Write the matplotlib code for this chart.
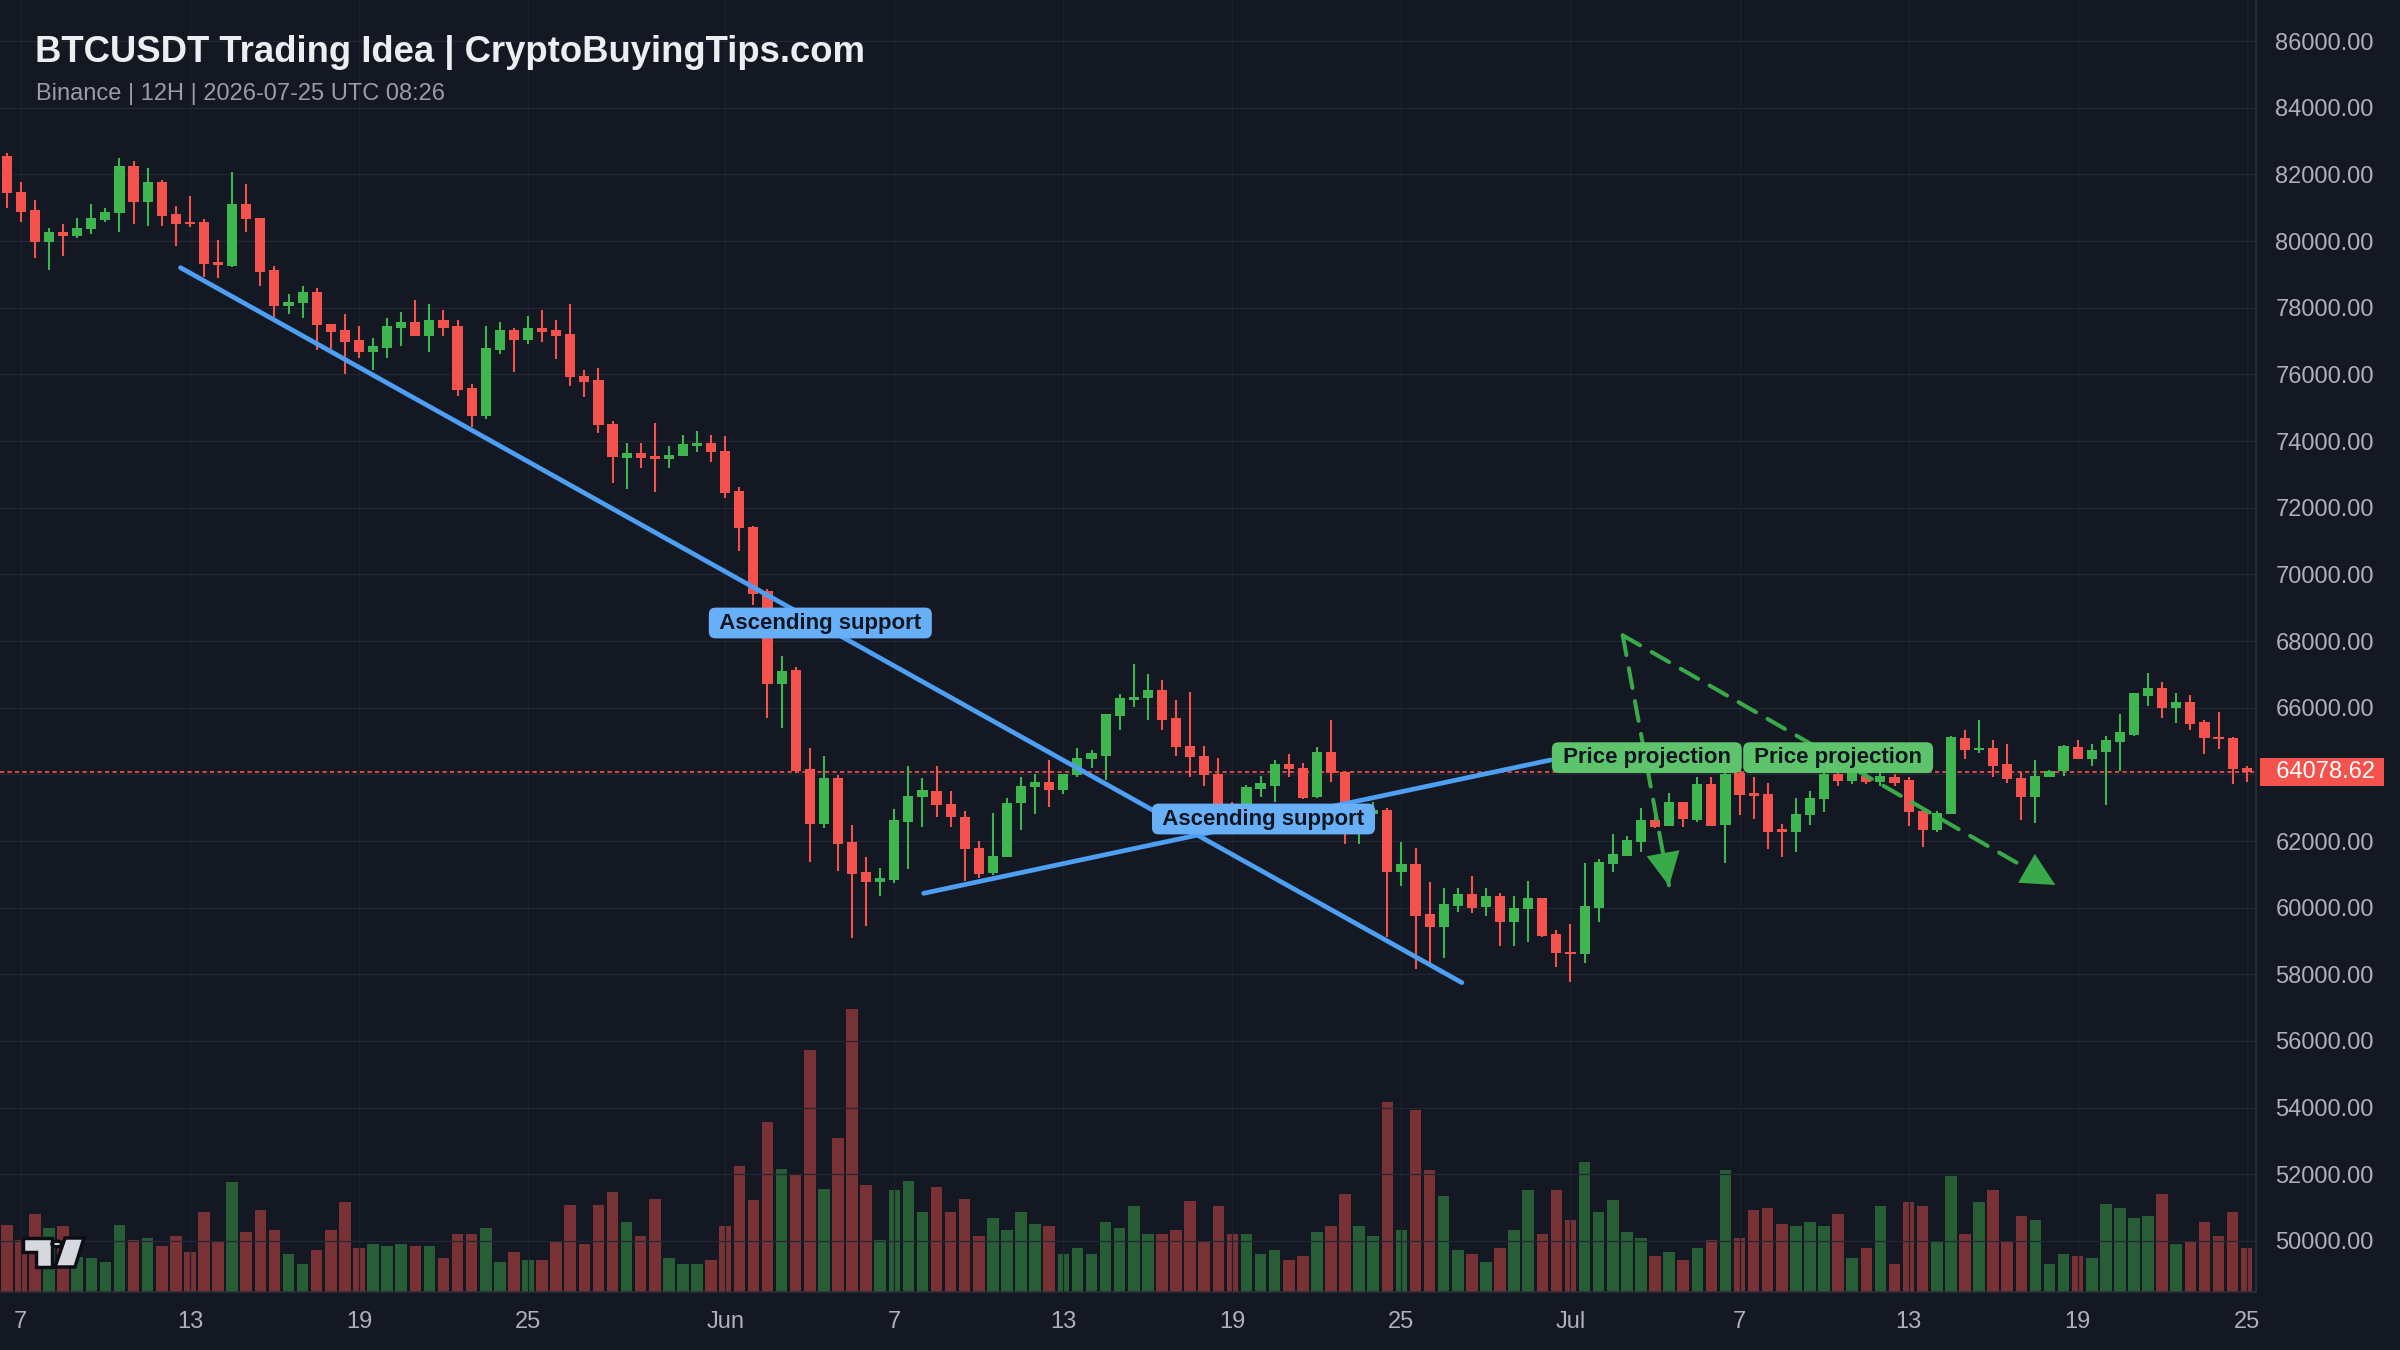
import numpy as np
import pandas as pd
import matplotlib
matplotlib.use("Agg")
import matplotlib.pyplot as plt
import matplotlib.dates as mdates
from matplotlib.patches import Polygon, Circle

plt.rcParams['font.family'] = ['Liberation Sans', 'DejaVu Sans']

BG = '#141823'
UP = '#3fb54f'
DOWN = '#f4524d'
BLUE = '#4d9ff3'
BLUE_TAG = '#67b0f7'
GREEN_LINE = '#38aa4a'
GREEN_TAG = '#5ec46b'
TICK = '#aeb1ba'

# 12H candles, BTCUSDT
times = pd.date_range('2026-05-06 12:00', periods=160, freq='12h')
opens = [82550, 81480, 80930, 79980, 80260, 80150, 80350, 80630, 80830, 82250,
         81180, 81780, 80810, 80570, 80580, 79370, 79250, 81110, 80680, 79130,
         78060, 78130, 78460, 77500, 77330, 77030, 76680, 76800, 77380, 77580,
         77150, 77630, 77460, 75600, 74750, 76730, 77330, 77030, 77380, 77330,
         77210, 75950, 75830, 74500, 73500, 73640, 73540, 73460, 73560, 73850,
         73950, 73710, 72500, 71420, 69510, 66700, 67130, 64170, 62510, 63880,
         61970, 61070, 60780, 60830, 62580, 63310, 63510, 63100, 62730, 61780,
         61030, 61510, 63130, 63610, 63760, 63530, 63980, 64450, 64550, 65750,
         66230, 66280, 66530, 65690, 64850, 64550, 64010, 63050, 62700, 63550,
         63650, 64310, 64200, 63310, 64680, 64080, 62650, 62800, 62930, 61080,
         61310, 59810, 59410, 60050, 60410, 60010, 60350, 59580, 59950, 60280,
         59210, 58660, 58610, 59980, 61310, 61550, 61980, 62630, 62450, 63160,
         62630, 63710, 62480, 64030, 63430, 63410, 62350, 62280, 62780, 63250,
         64000, 63800, 63950, 63780, 63930, 63830, 62910, 62330, 62810, 65080,
         64730, 64780, 64310, 63900, 63310, 63910, 64110, 64830, 64450, 64680,
         64980, 65180, 66360, 66580, 66000, 66180, 65580, 65130, 65100, 64180]
highs = [82650, 81780, 81230, 80400, 80500, 80700, 81110, 80980, 82480, 82410,
         82180, 81830, 81050, 81350, 80650, 80030, 82080, 81710, 80700, 79250,
         78410, 78650, 78580, 77500, 77810, 77450, 77080, 77680, 77880, 78230,
         78110, 77930, 77630, 75700, 77450, 77580, 77380, 77750, 77930, 77630,
         78110, 76130, 76180, 74610, 73950, 73950, 74540, 73850, 74190, 74310,
         74190, 74160, 72610, 71440, 69560, 67540, 67230, 64790, 64550, 63980,
         62480, 61520, 61190, 62970, 64250, 63880, 64250, 63510, 62910, 62010,
         62850, 63280, 63930, 64000, 64430, 64010, 64780, 64730, 65810, 66410,
         67310, 67010, 66830, 66230, 66480, 64850, 64480, 63180, 63680, 63950,
         64430, 64610, 64350, 64830, 65630, 64110, 62900, 63180, 62980, 61980,
         61780, 60760, 60580, 60580, 60950, 60580, 60450, 60350, 60810, 60280,
         59330, 59510, 61350, 61450, 62210, 62150, 62980, 62980, 63450, 63180,
         63910, 63910, 64300, 64200, 63930, 63750, 62510, 63280, 63510, 64150,
         64300, 64300, 64200, 64100, 64000, 63930, 62950, 62910, 65150, 65330,
         65630, 65030, 64910, 64080, 64430, 64130, 64880, 65030, 64910, 65150,
         65810, 66450, 67030, 66780, 66430, 66380, 65630, 65880, 65130, 64250]
lows = [81000, 80580, 79500, 79130, 79550, 80080, 80210, 80580, 80280, 80510,
        80460, 80460, 79860, 80410, 78930, 78900, 79210, 80280, 78660, 77730,
        77810, 77680, 76730, 76750, 76010, 76480, 76130, 76480, 76850, 77150,
        76680, 77150, 75350, 74430, 74650, 76610, 76080, 76910, 76980, 76450,
        75650, 75310, 74230, 72730, 72550, 73190, 72470, 73190, 73560, 73670,
        73380, 72300, 70690, 69090, 65690, 65400, 64050, 61380, 62400, 61090,
        59100, 59460, 60360, 60730, 61150, 62410, 62710, 62410, 60810, 60880,
        60980, 61510, 62330, 62810, 63010, 63410, 63930, 64180, 63830, 65330,
        66030, 65630, 65330, 64550, 63910, 63650, 62700, 62300, 62600, 63330,
        63180, 63910, 63250, 63280, 63780, 61910, 61910, 62500, 59130, 60650,
        58150, 58280, 58480, 59880, 59830, 59750, 58850, 58850, 58980, 59110,
        58210, 57780, 58330, 59580, 61080, 61550, 61680, 62380, 62450, 62410,
        62580, 62450, 61330, 62780, 62650, 61750, 61510, 61680, 62480, 62880,
        63650, 63700, 63700, 63650, 63650, 62450, 61810, 62280, 62810, 64450,
        64650, 63910, 63730, 62630, 62530, 63910, 63950, 64450, 64250, 63080,
        64110, 65150, 66050, 65680, 65530, 65330, 64610, 64750, 63710, 63780]
closes = [81430, 80880, 79980, 80280, 80160, 80380, 80680, 80880, 82250, 81180,
          81780, 80750, 80510, 80510, 79310, 79270, 81110, 80650, 79080, 78060,
          78180, 78460, 77470, 77280, 76980, 76680, 76850, 77460, 77580, 77150,
          77630, 77400, 75530, 74750, 76800, 77330, 77030, 77380, 77280, 77150,
          75910, 75780, 74480, 73510, 73640, 73500, 73450, 73590, 73900, 73950,
          73670, 72450, 71400, 69400, 66720, 67110, 64100, 62510, 63880, 61910,
          61000, 60780, 60880, 62620, 63350, 63530, 63080, 62710, 61750, 61010,
          61550, 63150, 63650, 63780, 63530, 64010, 64500, 64630, 65810, 66280,
          66330, 66530, 65630, 64810, 64510, 63980, 63030, 62650, 63610, 63730,
          64310, 64150, 63280, 64680, 64030, 62700, 62800, 62930, 61080, 61310,
          59750, 59410, 60100, 60410, 59980, 60350, 59580, 59980, 60280, 59150,
          58630, 58610, 60050, 61380, 61610, 62030, 62630, 62430, 63160, 62650,
          63710, 62450, 64000, 63380, 63350, 62280, 62280, 62810, 63300, 64000,
          63800, 64100, 63780, 63950, 63750, 62880, 62330, 62850, 65110, 64730,
          64780, 64250, 63850, 63310, 63950, 64110, 64850, 64450, 64730, 65030,
          65280, 66430, 66580, 65980, 66180, 65510, 65100, 65050, 64150, 64078.62]
volumes = [6730, 5170, 7770, 6370, 6570, 3500, 3400, 3000, 6730, 5170,
           5370, 4570, 5570, 3970, 7970, 5000, 10970, 5970, 8170, 6170,
           3770, 2770, 4170, 6170, 9000, 4370, 4770, 4570, 4770, 4570,
           4570, 3400, 5770, 5770, 6370, 2970, 3970, 3170, 3170, 4970,
           8730, 4770, 8730, 9970, 6970, 5570, 9330, 3370, 2770, 2770,
           3170, 6570, 12570, 9170, 16970, 12330, 11770, 24170, 10330, 15370,
           28330, 10730, 5170, 10170, 11130, 7970, 10530, 7970, 9330, 5570,
           7370, 6170, 7970, 6770, 6570, 3770, 4370, 3770, 6970, 6370,
           8570, 5770, 5770, 6170, 9130, 4970, 8570, 5770, 5770, 3770,
           4170, 3170, 3570, 5970, 6570, 9770, 6570, 5570, 18970, 6170,
           18170, 12170, 9570, 4170, 3770, 2970, 4370, 6170, 10170, 5770,
           10170, 7170, 12970, 7970, 9170, 5970, 5370, 3570, 3970, 3170,
           4370, 5170, 12170, 5370, 8170, 8370, 6770, 6570, 6970, 6570,
           7770, 3370, 4370, 8570, 2770, 8970, 8570, 4970, 11570, 5770,
           8970, 10170, 4970, 7570, 7170, 2770, 3770, 3570, 3370, 8770,
           8370, 7370, 7570, 9770, 4770, 4970, 6970, 5570, 7970, 4370]

price_ticks = list(range(50000, 86001, 2000))
date_ticks = ['2026-05-07', '2026-05-13', '2026-05-19', '2026-05-25', '2026-06-01',
              '2026-06-07', '2026-06-13', '2026-06-19', '2026-06-25', '2026-07-01',
              '2026-07-07', '2026-07-13', '2026-07-19', '2026-07-25']
date_labels = ['7', '13', '19', '25', 'Jun', '7', '13', '19', '25', 'Jul', '7', '13', '19', '25']

# drawings
desc_t = ['2026-05-12 16:00', '2026-06-27 03:30']
desc_p = [79200, 57750]
asc_t = ['2026-06-08 01:00', '2026-06-30 07:00']
asc_p = [60430, 64430]
support_tags = [('2026-06-04 09:00', 68540), ('2026-06-20 02:30', 62660)]
proj_start = ('2026-07-02 20:30', 68170)
proj_tips = [('2026-07-04 12:00', 60650), ('2026-07-18 05:00', 60680)]
proj_tags = [('2026-07-03 17:00', 64500), ('2026-07-10 12:00', 64500)]


def dn(t):
    return mdates.date2num(pd.Timestamp(t))


x = mdates.date2num(times)
o = np.array(opens)
c = np.array(closes)
cols = [UP if cc >= oo else DOWN for oo, cc in zip(o, c)]
last = closes[-1]

fig = plt.figure(figsize=(24, 13.5), dpi=100, facecolor=BG)
rect = [0, 1 - 1292 / 1350, 2256 / 2400, 1292 / 1350]
ax_vol = fig.add_axes(rect)
ax = fig.add_axes(rect)
ax.patch.set_visible(False)

xlim = (x[0] - 0.24, x[-1] + 0.33)

# volume pane
ax_vol.bar(x, volumes, width=0.41, color=cols, alpha=0.45, linewidth=0)
ax_vol.set_ylim(0, 129200)
ax_vol.set_xlim(*xlim)
ax_vol.axis('off')

# candles
ax.vlines(x, lows, highs, colors=cols, lw=1.5, zorder=3)
ax.bar(x, c - o, bottom=o, width=0.36, color=cols, linewidth=0, zorder=4)
ax.axhline(last, color=DOWN, lw=1.2, ls=(0, (2.5, 2)), zorder=2.5)

# trend lines
ax.plot([dn(t) for t in desc_t], desc_p, color=BLUE, lw=3.4, solid_capstyle='round', zorder=5)
ax.plot([dn(t) for t in asc_t], asc_p, color=BLUE, lw=3.4, solid_capstyle='round', zorder=5)

# projection arrows: dashed shaft + solid head
for tip in proj_tips:
    ax.plot([dn(proj_start[0]), dn(tip[0])], [proj_start[1], tip[1]], color=GREEN_LINE,
            lw=2.9, ls=(0, (5, 3.3)), dash_capstyle='round', zorder=6)
    ax.annotate('', xy=(dn(tip[0]), tip[1]), xytext=(dn(proj_start[0]), proj_start[1]),
                arrowprops=dict(arrowstyle='-|>,head_length=1.0,head_width=0.5', mutation_scale=24,
                                lw=0, color=GREEN_LINE, shrinkA=0, shrinkB=0), zorder=7)


def tag(t, p, text, fc):
    ax.text(dn(t), p, ' ' + text + ' ', ha='center', va='center', fontsize=16, fontweight='bold',
            color='#0f1521', zorder=8,
            bbox=dict(boxstyle='round,pad=0.22,rounding_size=0.3', fc=fc, ec='none'))


for t, p in support_tags:
    tag(t, p, 'Ascending support', BLUE_TAG)
for t, p in proj_tags:
    tag(t, p, 'Price projection', GREEN_TAG)

# axes
ax.set_xlim(*xlim)
ax.set_ylim(48470, 87230)
ax.yaxis.tick_right()
ax.set_yticks(price_ticks)
ax.set_yticklabels(['' if abs(v - last) < 1000 else f'{v:.2f}' for v in price_ticks])
ax.set_xticks([dn(t) for t in date_ticks])
ax.set_xticklabels(date_labels)
ax.tick_params(axis='both', length=0, colors=TICK, labelsize=17)
ax.tick_params(axis='y', pad=14)
ax.tick_params(axis='x', pad=14)
ax.grid(True, axis='y', color='#232733', lw=0.9)
ax.grid(True, axis='x', color='#1d212c', lw=0.9)
ax.set_axisbelow(True)
for s in ['top', 'left']:
    ax.spines[s].set_visible(False)
for s in ['right', 'bottom']:
    ax.spines[s].set_color('#2a2e39')
    ax.spines[s].set_linewidth(1.2)

ax.annotate(f'  {last:.2f} ', xy=(1, last), xycoords=('axes fraction', 'data'),
            xytext=(4.7, 0), textcoords='offset points', ha='left', va='center',
            fontsize=17, color='white', annotation_clip=False, zorder=10,
            bbox=dict(boxstyle='square,pad=0.12', fc=DOWN, ec='none'))

# header
fig.text(0.0147, 1 - 62.3 / 1350, 'BTCUSDT Trading Idea | CryptoBuyingTips.com', fontsize=26.3,
         fontweight='bold', color='#eceef2', va='baseline')
fig.text(0.0152, 1 - 100 / 1350, 'Binance | 12H | 2026-07-25 UTC 08:26', fontsize=17,
         color='#9a9da6', va='baseline')


# TradingView mark, bottom left
def fpx(px, py):
    return (px / 2400, 1 - py / 1350)


logo_kw = dict(transform=fig.transFigure, fc='#d6d8de', ec='#0b0e14', lw=2.5, zorder=20)
fig.patches.append(Polygon([fpx(23, 1238), fpx(52, 1238), fpx(52, 1267), fpx(36, 1267),
                            fpx(36, 1252), fpx(23, 1252)], **logo_kw))
fig.patches.append(Circle(fpx(57, 1244), 5 / 2400, **logo_kw))
fig.patches.append(Polygon([fpx(65, 1238), fpx(84, 1238), fpx(75, 1267), fpx(55, 1267)], **logo_kw))

fig.savefig('out.png', dpi=100, facecolor=BG)
